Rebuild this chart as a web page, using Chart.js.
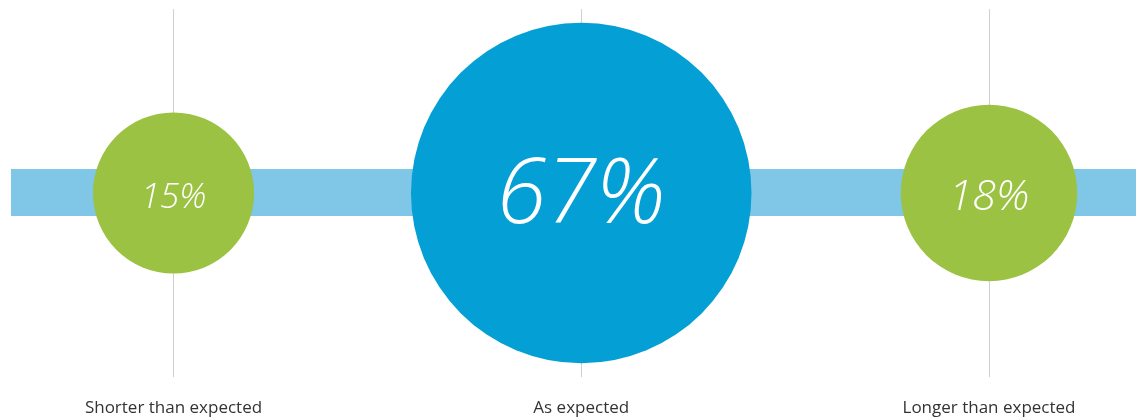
<!DOCTYPE html>
<html>
<head>
<meta charset="utf-8">
<script src="https://cdn.jsdelivr.net/npm/chart.js@4/dist/chart.umd.min.js"></script>
<style>
html,body{margin:0;padding:0;background:#fff;}
#wrap{width:1136px;height:419px;position:relative;}
</style>
</head>
<body>
<div id="wrap"><canvas id="c"></canvas></div>
<script>
const categories = ["Shorter than expected", "As expected", "Longer than expected"];
const percentages = [15, 67, 18];

const circleColors = ["#9bc243", "#049fd4", "#9bc243"];
const bandColor = "#80c6e6";
const valueFontSizes = [35, 90, 43];
const valueOffsets = [0.42, 0.33, 0.40];
const radiusPerSqrt = 20.8;

const bandPlugin = {
  id: 'band',
  beforeDatasetsDraw(chart) {
    const {ctx, chartArea} = chart;
    const y0 = chart.scales.y.getPixelForValue(0);
    ctx.save();
    ctx.fillStyle = bandColor;
    ctx.fillRect(chartArea.left, y0 - 24, chartArea.right - chartArea.left, 47);
    ctx.restore();
  }
};

const valueLabels = {
  id: 'valueLabels',
  afterDatasetsDraw(chart) {
    const {ctx} = chart;
    const meta = chart.getDatasetMeta(0);
    ctx.save();
    ctx.fillStyle = "#ffffff";
    ctx.textAlign = "center";
    ctx.textBaseline = "alphabetic";
    meta.data.forEach((el, i) => {
      const fs = valueFontSizes[i];
      ctx.font = "italic 300 " + fs + "px 'Open Sans', 'Noto Sans', sans-serif";
      ctx.fillText(percentages[i] + "%", el.x, el.y + fs * valueOffsets[i]);
    });
    ctx.restore();
  }
};

new Chart(document.getElementById('c'), {
  type: 'bubble',
  data: {
    datasets: [{
      data: percentages.map((v, i) => ({x: i, y: 0, r: radiusPerSqrt * Math.sqrt(v)})),
      backgroundColor: circleColors,
      borderWidth: 0,
      hoverRadius: 0,
      hoverBorderWidth: 0,
      clip: false
    }]
  },
  options: {
    responsive: true,
    maintainAspectRatio: false,
    animation: false,
    events: [],
    layout: {autoPadding: false, padding: {left: 11, right: 0, top: 9, bottom: 0}},
    plugins: {legend: {display: false}, tooltip: {enabled: false}},
    scales: {
      x: {
        type: 'linear',
        min: -0.3985,
        max: 2.3605,
        afterBuildTicks(scale) { scale.ticks = categories.map((c, i) => ({value: i})); },
        afterFit(scale) { scale.height = 42; },
        grid: {display: true, color: "#d0d0d0", lineWidth: 1, drawTicks: false},
        border: {display: false},
        ticks: {
          autoSkip: false,
          maxRotation: 0,
          padding: 21,
          color: "#333333",
          font: {family: "'Open Sans', 'Noto Sans', sans-serif", size: 17},
          callback: (v) => categories[v]
        }
      },
      y: {
        display: false,
        min: -1,
        max: 1
      }
    }
  },
  plugins: [bandPlugin, valueLabels]
});
</script>
</body>
</html>
